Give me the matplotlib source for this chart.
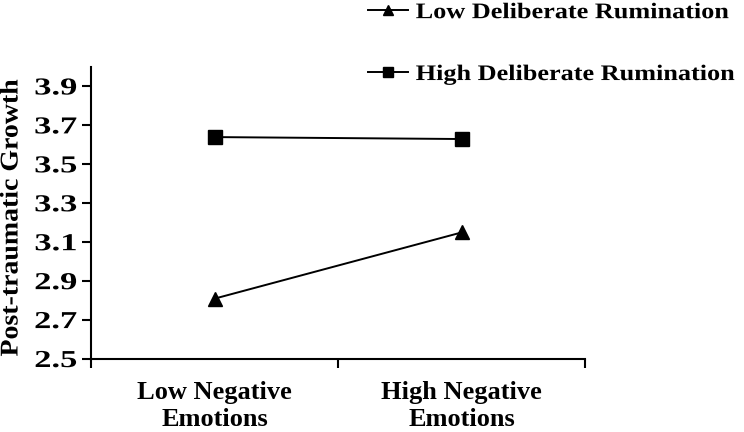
import matplotlib
matplotlib.use("Agg")
import matplotlib.pyplot as plt
from matplotlib.patheffects import AbstractPathEffect
from matplotlib.transforms import Affine2D
import numpy as np

plt.rcParams['font.family'] = ['Liberation Serif', 'DejaVu Serif']
plt.rcParams['font.weight'] = 'bold'

categories = ["Low Negative\nEmotions", "High Negative\nEmotions"]
low_dr = [2.81, 3.15]
high_dr = [3.64, 3.63]
series_names = ["Low Deliberate Rumination", "High Deliberate Rumination"]
y_ticks = [2.5, 2.7, 2.9, 3.1, 3.3, 3.5, 3.7, 3.9]


class Stretch(AbstractPathEffect):
    """Widen glyphs along the reading direction, keeping an anchor fixed."""
    def __init__(self, sx=1.0, anchor='center'):
        super().__init__()
        self.sx = sx
        self.anchor = anchor

    def draw_path(self, renderer, gc, tpath, affine, rgbFace=None):
        ext = tpath.get_extents()
        if self.anchor == 'left':
            cx = ext.x0
        elif self.anchor == 'right':
            cx = ext.x1
        else:
            cx = 0.5 * (ext.x0 + ext.x1)
        t = Affine2D().translate(-cx, 0).scale(self.sx, 1.0).translate(cx, 0) + affine
        renderer.draw_path(gc, tpath, t, rgbFace)


fig = plt.figure(figsize=(7.44, 4.32), dpi=100)
ax = fig.add_axes([91/744, 1-359/432, (585-91)/744, (359-67)/432])

x = np.arange(len(categories)) + 0.5
ax.plot(x, low_dr, color='black', lw=1.4, marker='^', markersize=10, label=series_names[0])
ax.plot(x, high_dr, color='black', lw=1.4, marker='s', markersize=9.5, label=series_names[1])

ax.set_xlim(0, 2)
ax.set_ylim(2.5, 4.0)
ax.set_yticks(y_ticks)
ax.set_yticklabels([f"{v:.1f}" for v in y_ticks], fontsize=17.5, fontweight='bold')
for t in ax.get_yticklabels():
    t.set_path_effects([Stretch(1.42, 'right')])
ax.set_xticks([0, 1, 2])
ax.set_xticklabels([])
ax.set_xticks(x, minor=True)
ax.set_xticklabels(categories, minor=True, fontsize=19, fontweight='bold', linespacing=1.2)
ax.tick_params(axis='x', which='minor', length=0, pad=16)
ax.tick_params(axis='both', which='major', direction='out', length=6.5, width=1.5, pad=3.6)
for s in ['top', 'right']:
    ax.spines[s].set_visible(False)
for s in ['left', 'bottom']:
    ax.spines[s].set_linewidth(1.5)

yl = fig.text(11/744, 1-218/432, "Post-traumatic Growth", rotation=90, ha='center', va='center',
              fontsize=18.4, fontweight='bold')
yl.set_path_effects([Stretch(1.09, 'center')])

leg = fig.legend(loc='upper left', bbox_to_anchor=(368/744, 0.994), frameon=False,
                 prop={'family': 'Liberation Serif', 'weight': 'bold', 'size': 16},
                 handlelength=1.8, handletextpad=0.35, labelspacing=1.86, markerscale=0.75,
                 borderaxespad=0.0, borderpad=0.0)
for t in leg.get_texts():
    t.set_path_effects([Stretch(1.18, 'left')])

fig.savefig("out.png", dpi=100)
